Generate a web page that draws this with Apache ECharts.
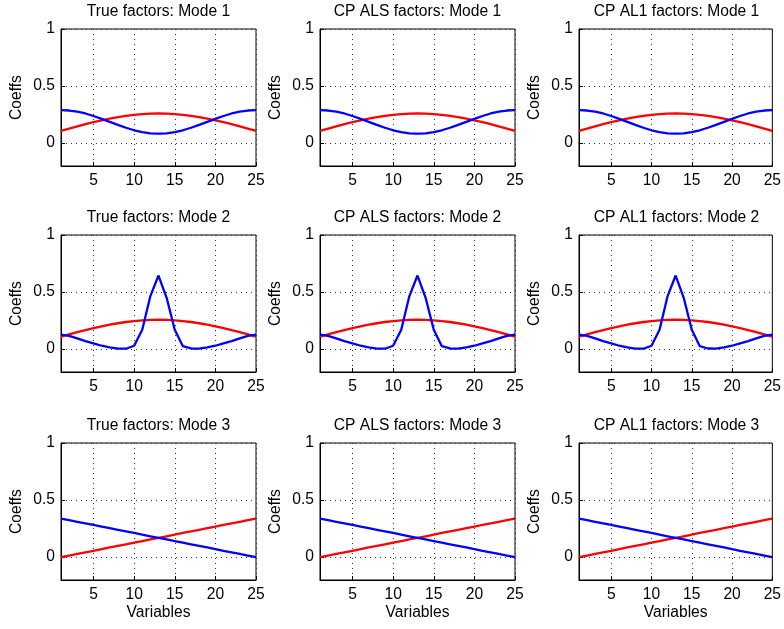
<!DOCTYPE html>
<html>
<head>
<meta charset="utf-8">
<script src="https://cdn.jsdelivr.net/npm/echarts@6/dist/echarts.min.js"></script>
<style>html,body{margin:0;padding:0;background:#fff;}#c{width:784px;height:629px;}</style>
</head>
<body>
<div id="c"></div>
<script>
const variables = [1,2,3,4,5,6,7,8,9,10,11,12,13,14,15,16,17,18,19,20,21,22,23,24,25];
const xTicks = [5,10,15,20,25];
const yTicks = [0,0.5,1];
const colTitles = ['True factors', 'CP ALS factors', 'CP AL1 factors'];
const modeNames = ['Mode 1', 'Mode 2', 'Mode 3'];

const mode1Red  = [0.107,0.127,0.147,0.166,0.184,0.200,0.215,0.228,0.239,0.248,0.254,0.258,0.260,0.258,0.254,0.248,0.239,0.228,0.215,0.200,0.184,0.166,0.147,0.127,0.107];
const mode1Blue = [0.290,0.286,0.276,0.260,0.238,0.213,0.187,0.160,0.135,0.113,0.097,0.086,0.083,0.086,0.097,0.113,0.135,0.160,0.187,0.213,0.238,0.260,0.276,0.286,0.290];
const mode2Red  = [0.110,0.130,0.149,0.167,0.184,0.200,0.214,0.227,0.238,0.246,0.252,0.256,0.258,0.256,0.252,0.246,0.238,0.227,0.214,0.200,0.184,0.167,0.149,0.130,0.110];
const mode2Blue = [0.128,0.116,0.095,0.070,0.050,0.030,0.015,0.005,0.004,0.030,0.170,0.465,0.645,0.450,0.170,0.026,0.006,0.005,0.015,0.030,0.050,0.070,0.095,0.116,0.128];
const mode3Red  = [0.000,0.014,0.028,0.042,0.056,0.071,0.085,0.099,0.113,0.127,0.141,0.155,0.169,0.183,0.197,0.212,0.226,0.240,0.254,0.268,0.282,0.296,0.310,0.324,0.338];
const mode3Blue = [0.338,0.324,0.310,0.296,0.282,0.268,0.254,0.240,0.226,0.212,0.197,0.183,0.169,0.155,0.141,0.127,0.113,0.099,0.085,0.071,0.056,0.042,0.028,0.014,0.000];

const modeData = [[mode1Red, mode1Blue],[mode2Red, mode2Blue],[mode3Red, mode3Blue]];

const FONT = '"Liberation Sans", Arial, Helvetica, sans-serif';
const FS = 15.6;
const lefts = [61, 320, 579];
const tops = [29, 235, 443];
const W = 195, H = 137;

const grids = [], xAxes = [], yAxes = [], series = [], titles = [];
let gi = 0;
for (let r = 0; r < 3; r++) {
  for (let c = 0; c < 3; c++) {
    grids.push({left: lefts[c], top: tops[r], width: W, height: H, show: true, borderColor: '#000', borderWidth: 1, containLabel: false});
    titles.push({
      text: colTitles[c] + ': ' + modeNames[r],
      left: lefts[c] + W / 2, top: tops[r] - 25, textAlign: 'center', padding: 0,
      textStyle: {fontFamily: FONT, fontSize: FS, fontWeight: 'normal', color: '#000'}
    });
    const dotted = {show: true, lineStyle: {color: '#333', width: 1, type: [1, 4]}};
    xAxes.push({
      type: 'value', gridIndex: gi, min: 1, max: 25,
      name: r === 2 ? 'Variables' : '', nameLocation: 'middle', nameGap: 25,
      nameTextStyle: {fontFamily: FONT, fontSize: FS, color: '#000'},
      axisLine: {show: true, onZero: false, lineStyle: {color: '#000', width: 1}},
      axisTick: {show: true, inside: true, length: 4, customValues: xTicks, lineStyle: {color: '#000'}},
      axisLabel: {show: true, customValues: xTicks, margin: 7, fontFamily: FONT, fontSize: FS, color: '#000'},
      splitLine: dotted
    });
    yAxes.push({
      type: 'value', gridIndex: gi, min: -0.2, max: 1,
      name: 'Coeffs', nameLocation: 'middle', nameGap: 36,
      nameTextStyle: {fontFamily: FONT, fontSize: FS, color: '#000'},
      axisLine: {show: true, onZero: false, lineStyle: {color: '#000', width: 1}},
      axisTick: {show: true, inside: true, length: 4, customValues: yTicks, lineStyle: {color: '#000'}},
      axisLabel: {show: true, customValues: yTicks, margin: 6, fontFamily: FONT, fontSize: FS, color: '#000',
        formatter: v => String(v)},
      splitLine: dotted
    });
    const pair = modeData[r];
    const cols = ['#ff0000', '#0000ff'];
    for (let k = 0; k < 2; k++) {
      series.push({
        type: 'line', xAxisIndex: gi, yAxisIndex: gi,
        data: variables.map((x, i) => [x, pair[k][i]]),
        showSymbol: false, symbol: 'none', animation: false,
        lineStyle: {color: cols[k], width: 2.3}, z: 3 + k
      });
    }
    gi++;
  }
}

const chart = echarts.init(document.getElementById('c'), null, {renderer: 'canvas'});
chart.setOption({
  animation: false,
  backgroundColor: '#fff',
  title: titles,
  grid: grids,
  xAxis: xAxes,
  yAxis: yAxes,
  series: series
});
</script>
</body>
</html>
